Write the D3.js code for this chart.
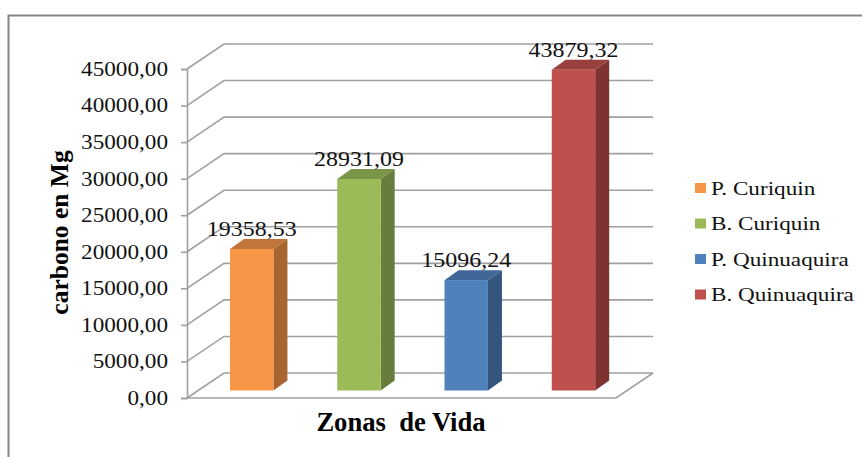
<!DOCTYPE html>
<html><head><meta charset="utf-8">
<script src="https://cdn.jsdelivr.net/npm/d3@7"></script>
<style>html,body{margin:0;padding:0;background:#fff}svg{display:block}text{font-family:"Liberation Serif",serif;fill:#111}</style>
</head><body><svg id="c" width="862" height="457"></svg>
<script>
const categories=["P. Curiquin","B. Curiquin","P. Quinuaquira","B. Quinuaquira"];
const values=[19358.53,28931.09,15096.24,43879.32];
const valueLabels=["19358,53","28931,09","15096,24","43879,32"];
const yTicks=[0,5000,10000,15000,20000,25000,30000,35000,40000,45000];
const frontColors=["#F79646","#9BBB59","#4F81BD","#C0504D"];
const sideColors=["#A9652F","#677D3B","#34557E","#7F3331"];
const topColors=["#C2753A","#7B9547","#3F6797","#993F3D"];
const axisTitle="carbono en Mg", xTitle="Zonas  de Vida";

const svg=d3.select("#c");
const L=187,R=616,T=69,B=398,DX=37,DY=25;
const y=d3.scaleLinear().domain([0,45000]).range([B,T]);
const x=d3.scaleBand().domain(categories).range([L,R]).paddingInner(0.595).paddingOuter(0.2975);
const grey="#A0A0A0";

svg.append("path").attr("d","M8.5,457V15.5H862").attr("fill","none").attr("stroke","#868686").attr("stroke-width",2);

const line=d3.line();
const wall=svg.append("g").attr("fill","none").attr("stroke",grey).attr("stroke-width",1.6);
yTicks.forEach(v=>{
  wall.append("path").attr("d",line([[L,y(v)],[L+DX,y(v)-DY],[R+DX,y(v)-DY]]));
});
wall.append("path").attr("d",line([[L,y(0)],[R,y(0)],[R+DX,y(0)-DY]]));

const tickStretch=1.16;
const axis=d3.axisLeft(y).tickValues(yTicks).tickSize(6).tickPadding(13)
  .tickFormat(d=>d3.format(".2f")(d).replace(".",","));
const ga=svg.append("g").attr("transform",`translate(${L},0)`).call(axis);
ga.selectAll("path,line").attr("stroke",grey).attr("stroke-width",1.6);
ga.selectAll("text").style("font-family",'"Liberation Serif",serif').attr("font-size",20).attr("fill","#111")
  .attr("x",-19/tickStretch).attr("transform",`scale(${tickStretch},1)`);

const fx=11.1,fy=7.5,sx=14,sy=10;
const bars=svg.append("g").selectAll("g").data(values).join("g");
bars.append("path").attr("fill",(d,i)=>sideColors[i]).attr("d",(d,i)=>{
  const a=x(categories[i])+x.bandwidth()+fx,t=y(d)-fy,b=B-fy;
  return line([[a,t],[a+sx,t-sy],[a+sx,b-sy],[a,b]])+"Z";});
bars.append("path").attr("fill",(d,i)=>topColors[i]).attr("d",(d,i)=>{
  const a=x(categories[i])+fx,w=x.bandwidth(),t=y(d)-fy;
  return line([[a,t],[a+sx,t-sy],[a+w+sx,t-sy],[a+w,t]])+"Z";});
bars.append("rect").attr("fill",(d,i)=>frontColors[i])
  .attr("x",(d,i)=>x(categories[i])+fx).attr("width",x.bandwidth())
  .attr("y",d=>y(d)-fy).attr("height",d=>B-y(d));
bars.append("text").attr("font-size",20.5).attr("text-anchor","middle")
  .attr("transform",(d,i)=>`translate(${x(categories[i])+fx+x.bandwidth()/2},${y(d)-fy-13}) scale(1.17,1)`)
  .text((d,i)=>valueLabels[i]);

svg.append("text").attr("transform","translate(68,232.5) rotate(-90)").attr("text-anchor","middle")
  .attr("font-size",25.5).attr("font-weight","bold").style("fill","#000").text(axisTitle);
svg.append("text").attr("x",401).attr("y",431).attr("text-anchor","middle").attr("xml:space","preserve")
  .style("white-space","pre").attr("font-size",26.6).attr("font-weight","bold").style("fill","#000").text(xTitle);

const ly=d3.scalePoint().domain(categories).range([188,294.5]);
const leg=svg.append("g").selectAll("g").data(categories).join("g");
leg.append("rect").attr("x",695).attr("y",d=>ly(d)-5).attr("width",11).attr("height",10).attr("fill",(d,i)=>frontColors[i]);
leg.append("text").attr("transform",d=>`translate(711,${ly(d)+6.5}) scale(1.22,1)`).attr("font-size",19).text(d=>d);
</script></body></html>
